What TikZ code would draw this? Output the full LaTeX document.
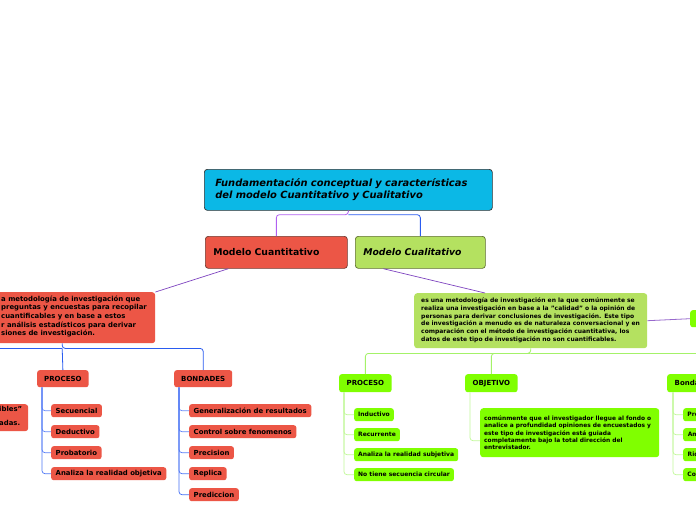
\documentclass[tikz,border=0pt]{standalone}
\usepackage{fontspec}
\setmainfont{DejaVu Sans}
\definecolor{cyanc}{HTML}{0BB8E6}
\definecolor{redc}{HTML}{EC5646}
\definecolor{lgreen}{HTML}{B4E160}
\definecolor{bgreen}{HTML}{80FF00}
\definecolor{purp}{HTML}{7E44C0}
\definecolor{purl}{HTML}{B060F0}
\definecolor{bluet}{HTML}{2A5CF0}
\definecolor{bluel}{HTML}{86A2FF}
\definecolor{greent}{HTML}{A4F268}
\definecolor{greenl}{HTML}{C2F99A}
\definecolor{rborder}{HTML}{6E3A30}
\definecolor{gborder}{HTML}{5E6E30}
\tikzset{
  box/.style={anchor=north west, inner ysep=0pt, rounded corners=3pt},
  rootbox/.style={box, draw=black!80, line width=0.7pt, fill=cyanc, inner xsep=11pt,
     text width=266pt, align=left, font=\fontsize{9.9}{12.5}\selectfont\bfseries\itshape},
  topred/.style={box, draw=rborder, line width=0.7pt, fill=redc, inner xsep=8pt, align=left,
     font=\fontsize{9.3}{10}\selectfont\bfseries},
  topgreen/.style={box, draw=gborder, line width=0.7pt, fill=lgreen, inner xsep=8pt, align=left,
     font=\fontsize{9.3}{10}\selectfont\bfseries\itshape},
  descred/.style={box, fill=redc},
  headred/.style={box, fill=redc, inner xsep=7pt, rounded corners=2.5pt,
     font=\fontsize{7}{8}\selectfont\bfseries},
  smred/.style={box, fill=redc, inner xsep=4.5pt, rounded corners=2.5pt,
     font=\fontsize{6.9}{7}\selectfont\bfseries},
  descgreen/.style={box, fill=lgreen},
  headgreen/.style={box, fill=bgreen, inner xsep=7.5pt, rounded corners=2.5pt,
     font=\fontsize{7}{8}\selectfont\bfseries},
  smgreen/.style={box, fill=bgreen, inner xsep=4pt, rounded corners=2.5pt,
     font=\fontsize{6}{7}\selectfont\bfseries},
  txt/.style={anchor=north west, inner sep=0pt, align=left},
  trunk/.style={line width=0.8pt, rounded corners=3pt},
  twig/.style={line width=0.7pt, rounded corners=3pt},
}
\begin{document}
\begin{tikzpicture}[x=1pt,y=-1pt]
\useasboundingbox (0,0) rectangle (696,520);
\fill[white] (0,0) rectangle (696,520);
\clip (0,0) rectangle (696,520);

% ---------- top level ----------
\node[rootbox, minimum width=288pt, minimum height=41pt] (root) at (204,169)
  {Fundamentación conceptual y características\\del modelo Cuantitativo y Cualitativo};
\node[topred, minimum width=142pt, minimum height=32pt, text width=126pt] (mcuant) at (205,236) {Modelo Cuantitativo};
\node[topgreen, minimum width=130pt, minimum height=32pt, text width=114pt] (mcual) at (355,236) {Modelo Cualitativo};

\draw[trunk, purl] (root.south) -- ++(0,4) coordinate (rj) -| (mcuant.north);
\draw[trunk, bluet] (rj) -| (mcual.north);

% ---------- left branch ----------
\node[descred, minimum width=186pt, minimum height=51pt] (ldesc) at (-31,292) {};
\node[txt, font=\fontsize{6.9}{8.6}\selectfont\bfseries] (ldesctext) at (1,295.5)
  {a metodología de investigación que\\preguntas y encuestas para recopilar\\cuantificables y en base a estos\\r análisis estadísticos para derivar\\siones de investigación.};
\draw[line width=0.7pt, purp] (mcuant.south) ++(-48,0) -- (ldesc.north east);

\node[headred, minimum height=17pt] (lproc) at (37,370) {PROCESO};
\node[headred, minimum height=17pt] (lbond) at (174,370) {BONDADES};
\draw[trunk, bluet] (ldesc.south) -- ++(0,5) coordinate (lj) -| (lbond.north);
\draw[trunk, bluet] (lj) -- (lproc.north);
\draw[trunk, bluet] (lj) -- ++(-80,0) coordinate (loff);

\node[descred, minimum width=68pt, minimum height=27pt] (lpart) at (-40,404) {};
\node[txt, font=\fontsize{6.9}{14}\selectfont\bfseries] (lparttext) at (-1,406.5) {ibles"\\adas.};

\node[smred, minimum height=13pt] (lp1) at (51,404) {Secuencial};
\node[smred, minimum height=13pt] (lp2) at (51,425) {Deductivo};
\node[smred, minimum height=13pt] (lp3) at (51,446) {Probatorio};
\node[smred, minimum height=13pt] (lp4) at (51,467) {Analiza la realidad objetiva};
\foreach \c/\k in {lp1/70,lp2/60,lp3/50,lp4/40}
  \draw[twig, bluel!\k!bluet] ([xshift=5pt]lproc.south west) |- (\c.west);

\node[smred, minimum height=13pt] (lb1) at (189,404) {Generalización de resultados};
\node[smred, minimum height=13pt] (lb2) at (189,425) {Control sobre fenomenos};
\node[smred, minimum height=13pt] (lb3) at (189,446) {Precision};
\node[smred, minimum height=13pt] (lb4) at (189,467) {Replica};
\node[smred, minimum height=13pt] (lb5) at (189,488) {Prediccion};
\foreach \c/\k in {lb1/70,lb2/60,lb3/50,lb4/40,lb5/30}
  \draw[twig, bluel!\k!bluet] ([xshift=5pt]lbond.south west) |- (\c.west);

% ---------- right branch ----------
\node[descgreen, minimum width=233pt, minimum height=55pt] (rdesc) at (414,293) {};
\node[txt, font=\fontsize{6}{7.8}\selectfont\bfseries] (rdesctext) at (421,297.5)
  {es una metodología de investigación en la que comúnmente se\\realiza una investigación en base a la "calidad" o la opinión de\\personas para derivar conclusiones de investigación. Este tipo\\de investigación a menudo es de naturaleza conversacional y en\\comparación con el método de investigación cuantitativa, los\\datos de este tipo de investigación no son cuantificables.};
\draw[line width=0.7pt, purp] (mcual.south) ++(-37,0) -- ([xshift=71pt]rdesc.north west);

\node[box, fill=bgreen, minimum width=40pt, minimum height=17pt, rounded corners=2.5pt] (rside) at (690,310) {};
\draw[line width=0.8pt, purp!80] (rdesc.east) -- (rside.west);

\node[headgreen, minimum height=18pt] (rproc) at (339,374) {PROCESO};
\node[headgreen, minimum height=18pt] (robj) at (465,374) {OBJETIVO};
\node[headgreen, minimum height=18pt] (rbond) at (667,374) {Bonda};
\draw[trunk, greent] (rdesc.south) -- ++(0,5) coordinate (rj2) -| (rproc.north);
\draw[trunk, greent] (rj2) -| (robj.north);
\draw[trunk, greent] (rj2) -- ++(200,0) coordinate (roff);

\node[smgreen, minimum height=13pt] (rp1) at (354,408) {Inductivo};
\node[smgreen, minimum height=13pt] (rp2) at (354,428) {Recurrente};
\node[smgreen, minimum height=13pt] (rp3) at (354,448) {Analiza la realidad subjetiva};
\node[smgreen, minimum height=13pt] (rp4) at (354,468) {No tiene secuencia circular};
\foreach \c in {rp1,rp2,rp3,rp4}
  \draw[twig, greenl] ([xshift=5pt]rproc.south west) |- (\c.west);

\node[box, fill=bgreen, minimum width=179pt, minimum height=49pt, inner xsep=4pt, text width=171pt,
      align=left, font=\fontsize{5.9}{7.3}\selectfont\bfseries] (robjc) at (480,408)
  {comúnmente que el investigador llegue al fondo o\\analice a profundidad opiniones de encuestados y\\este tipo de investigación está guiada\\completamente bajo la total dirección del\\entrevistador.};
\draw[twig, greenl] ([xshift=5pt]robj.south west) |- ([yshift=-8pt]robjc.west);

\node[smgreen, minimum height=13pt, minimum width=20pt] (rb1) at (683,408) {Pro};
\node[smgreen, minimum height=13pt, minimum width=20pt] (rb2) at (683,428) {Am};
\node[smgreen, minimum height=13pt, minimum width=20pt] (rb3) at (683,448) {Riq};
\node[smgreen, minimum height=13pt, minimum width=20pt] (rb4) at (683,468) {Cor};
\foreach \c in {rb1,rb2,rb3,rb4,rbond}
  \fill[bgreen] (\c.north east) ++(-3,0) rectangle ([xshift=10pt]\c.south east);
\foreach \c in {rb1,rb2,rb3,rb4}
  \draw[twig, greenl] ([xshift=6pt]rbond.south west) |- (\c.west);
\end{tikzpicture}
\end{document}
